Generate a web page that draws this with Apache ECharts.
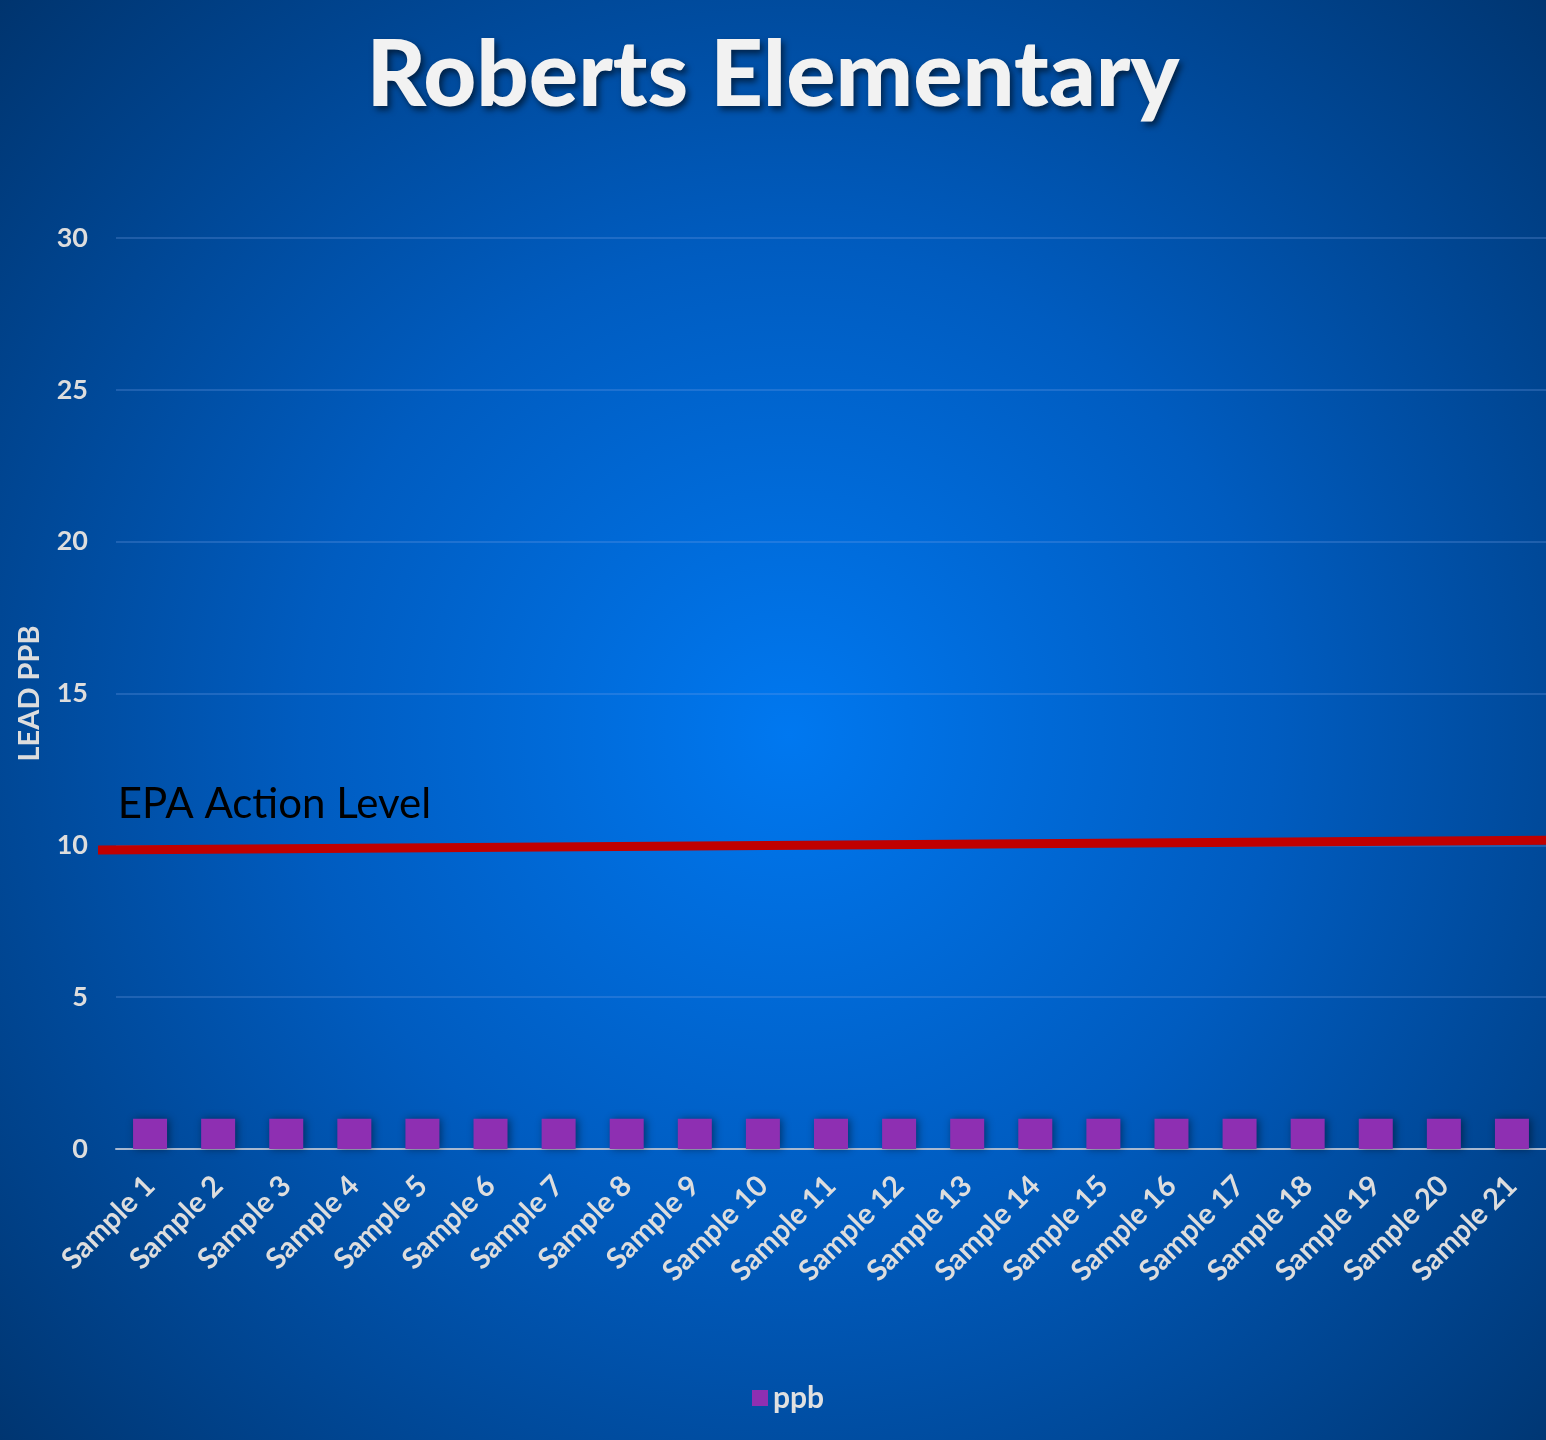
<!DOCTYPE html>
<html><head><meta charset="utf-8">
<script src="https://cdn.jsdelivr.net/npm/echarts@6/dist/echarts.min.js"></script>
<style>html,body{margin:0;padding:0;background:#004080}#c{width:1546px;height:1440px}</style>
</head><body><div id="c"></div>
<script>
const categories = ['Sample 1','Sample 2','Sample 3','Sample 4','Sample 5','Sample 6','Sample 7','Sample 8','Sample 9','Sample 10','Sample 11','Sample 12','Sample 13','Sample 14','Sample 15','Sample 16','Sample 17','Sample 18','Sample 19','Sample 20','Sample 21'];
const ppb = [1,1,1,1,1,1,1,1,1,1,1,1,1,1,1,1,1,1,1,1,1];
const yTicks = [0,5,10,15,20,25,30];
const actionLine = [[0, 9.85], [1, 10.17]];
const actionLabel = 'EPA Action Level';

const chart = echarts.init(document.getElementById('c'));
const F = 'Lato, "Open Sans", sans-serif';
chart.setOption({
  backgroundColor: {
    type: 'radial', x: 0.51, y: 0.51, r: 0.75,
    colorStops: [
      {offset: 0, color: '#0078F0'},
      {offset: 0.45, color: '#005CC0'},
      {offset: 1, color: '#00346E'}
    ]
  },
  title: {
    text: 'Roberts Elementary', left: 'center', top: 25,
    textStyle: {color: '#F2F2F2', fontFamily: F, fontWeight: 900, fontSize: 92,
      textShadowColor: 'rgba(0,0,0,0.55)', textShadowBlur: 6, textShadowOffsetX: 3, textShadowOffsetY: 4}
  },
  legend: {
    bottom: 22, left: 747, itemWidth: 16, itemHeight: 16, itemGap: 8,
    icon: 'rect',
    textStyle: {color: '#E0E0E0', fontFamily: F, fontWeight: 'bold', fontSize: 30},
    data: ['ppb']
  },
  grid: [
    {left: 116, right: 0, top: 238, bottom: 291, containLabel: false},
    {left: 98, right: 0, top: 238, bottom: 291, containLabel: false}
  ],
  xAxis: [{
    type: 'category', data: categories, gridIndex: 0,
    axisLine: {lineStyle: {color: '#A8B8D0', width: 2}},
    axisTick: {show: false},
    axisLabel: {color: '#DDDDDD', fontFamily: F, fontWeight: 'bold', fontSize: 29, rotate: 45, margin: 32, interval: 0}
  }, {
    type: 'value', min: 0, max: 1, show: false, gridIndex: 1
  }],
  yAxis: [{
    type: 'value', min: 0, max: 30, interval: 5, gridIndex: 0,
    name: 'LEAD PPB', nameLocation: 'middle', nameGap: 72, nameRotate: 90,
    nameTextStyle: {color: '#DDDDDD', fontFamily: F, fontWeight: 'bold', fontSize: 29},
    axisLine: {show: false}, axisTick: {show: false},
    axisLabel: {color: '#DDDDDD', fontFamily: F, fontWeight: 'bold', fontSize: 27, margin: 28,
      formatter: v => yTicks.includes(v) ? String(v) : ''},
    splitLine: {lineStyle: {color: 'rgba(120,160,230,0.35)', width: 1.5}}
  }, {
    type: 'value', min: 0, max: 30, interval: 5, gridIndex: 1, show: false
  }],
  series: [{
    name: 'ppb', type: 'bar', data: ppb, barWidth: 34,
    itemStyle: {color: '#8E2FB2', shadowColor: 'rgba(0,0,0,0.45)', shadowBlur: 8, shadowOffsetX: 2, shadowOffsetY: 0},
    z: 3
  }, {
    name: 'action', type: 'line', xAxisIndex: 1, yAxisIndex: 1, data: actionLine, clip: false,
    symbol: 'none', silent: true,
    lineStyle: {color: '#C00000', width: 9, cap: 'butt'},
    z: 4,
    markPoint: {
      symbolSize: 0, silent: true,
      data: [{coord: [0.0137, 11.35], label: {show: true, formatter: actionLabel, position: 'right', distance: 0,
        color: '#000000', fontFamily: F, fontSize: 42}}]
    }
  }]
});
</script></body></html>
